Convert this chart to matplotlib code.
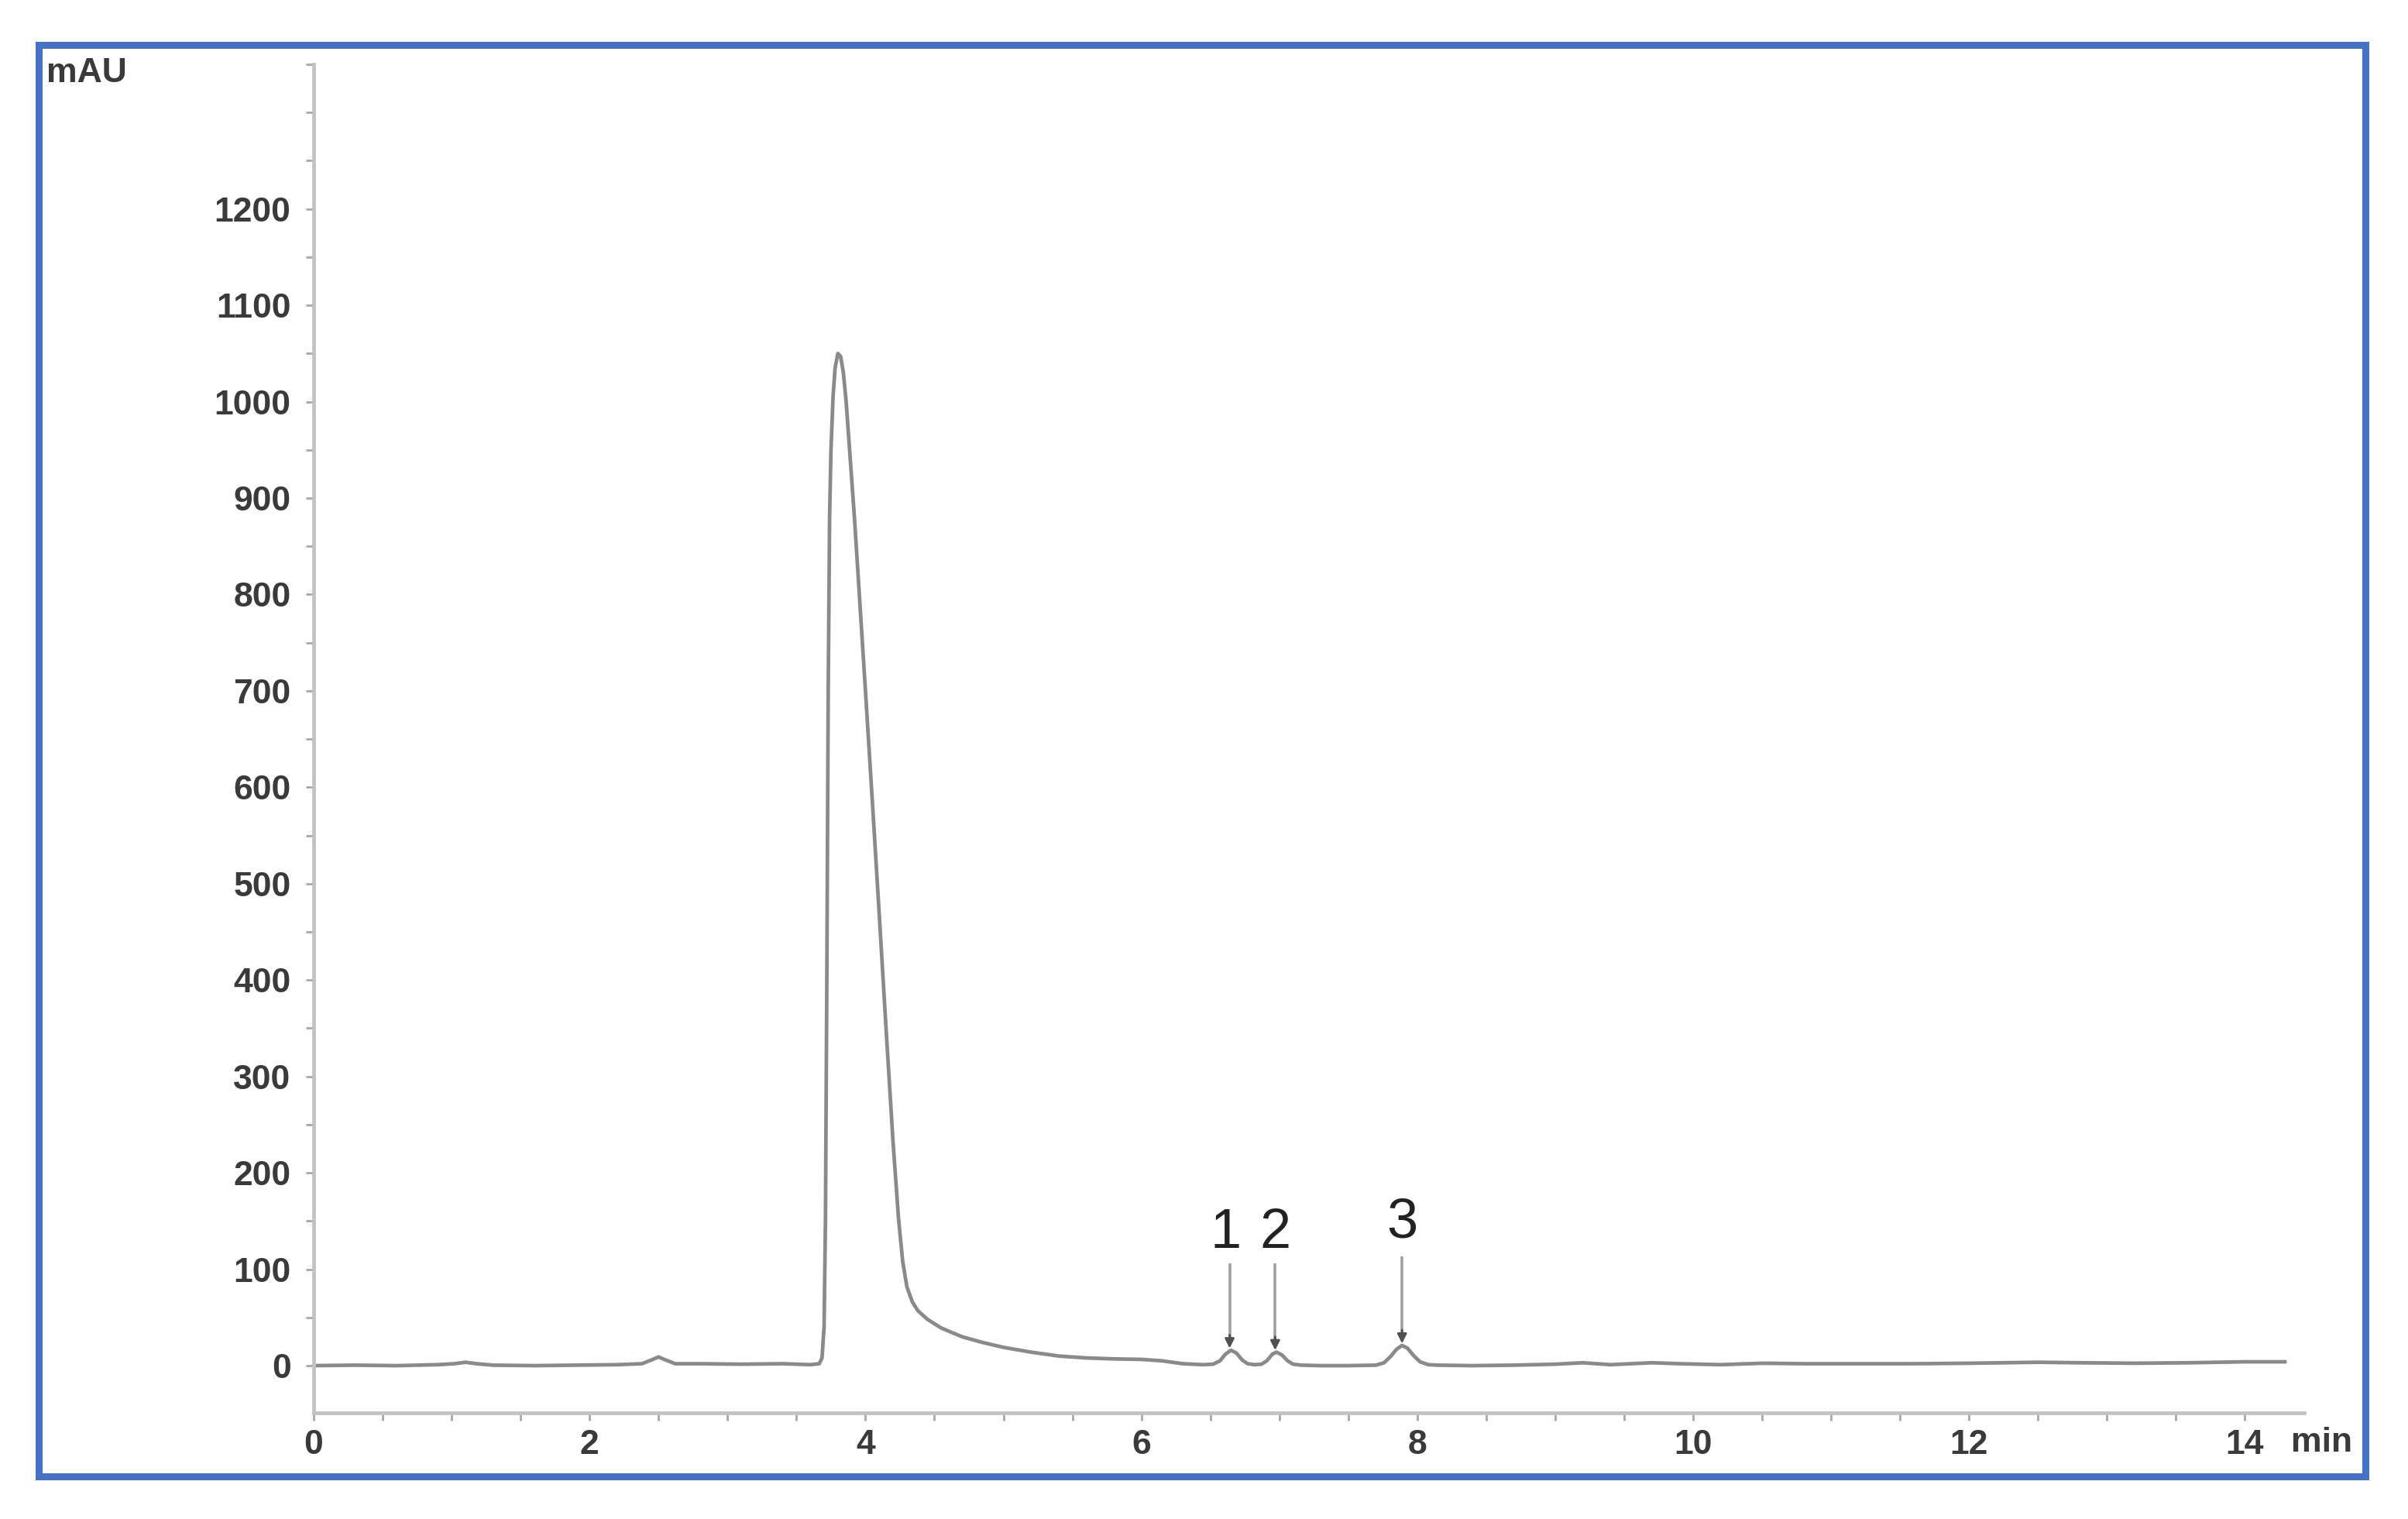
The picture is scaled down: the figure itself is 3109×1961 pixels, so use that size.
import matplotlib
matplotlib.use("Agg")
import matplotlib.pyplot as plt
from matplotlib.patches import Rectangle
from matplotlib.ticker import MultipleLocator

# ---- data ----
time_min = [0.00, 0.30, 0.60, 0.90, 1.02, 1.10, 1.18, 1.30, 1.60, 1.90, 2.20, 2.38, 2.45, 2.50,
            2.55, 2.62, 2.80, 3.10, 3.40, 3.60, 3.665, 3.685, 3.70, 3.71, 3.72, 3.73, 3.74,
            3.75, 3.765, 3.78, 3.80, 3.82, 3.84, 3.86, 3.88, 3.92, 3.96, 4.00, 4.05, 4.10,
            4.15, 4.20, 4.24, 4.27, 4.30, 4.34, 4.38, 4.45, 4.55, 4.70, 4.85, 5.00, 5.20,
            5.40, 5.60, 5.80, 6.00, 6.15, 6.30, 6.45, 6.52, 6.57, 6.61, 6.65, 6.69, 6.73,
            6.77, 6.82, 6.87, 6.91, 6.95, 6.98, 7.02, 7.06, 7.10, 7.16, 7.30, 7.50, 7.70,
            7.76, 7.81, 7.85, 7.89, 7.93, 7.97, 8.02, 8.08, 8.15, 8.40, 8.70, 9.00, 9.20,
            9.40, 9.70, 9.90, 10.20, 10.50, 10.80, 11.20, 11.60, 12.00, 12.50, 12.80, 13.20,
            13.60, 14.00, 14.29]
signal_mau = [0.0, 0.5, 0.0, 1.0, 2.0, 3.5, 2.0, 0.5, 0.0, 0.5, 1.0, 2.0, 6.0, 9.0,
              6.0, 2.0, 2.0, 1.5, 2.0, 1.0, 2.0, 8.0, 40.0, 150.0, 400.0, 700.0, 880.0,
              950.0, 1005.0, 1035.0, 1050.0, 1047.0, 1030.0, 1000.0, 960.0, 880.0, 790.0, 700.0, 585.0, 468.0,
              348.0, 232.0, 152.0, 108.0, 82.0, 66.0, 57.0, 48.0, 39.0, 30.0, 24.0, 19.0, 14.0,
              10.0, 8.0, 7.0, 6.5, 5.0, 2.0, 1.0, 1.5, 5.0, 12.0, 16.0, 13.0, 6.0,
              2.0, 1.0, 1.5, 5.0, 12.0, 14.0, 11.0, 5.0, 1.5, 0.5, 0.0, 0.0, 0.5,
              3.0, 10.0, 17.0, 21.0, 18.0, 11.0, 4.0, 1.0, 0.5, 0.0, 0.5, 1.5, 3.0,
              1.0, 3.0, 2.0, 1.0, 2.5, 2.0, 2.0, 2.0, 2.5, 3.5, 3.0, 2.5,
              3.0, 4.0, 4.0]

peak_labels = ["1", "2", "3"]
peak_times = [6.64, 6.97, 7.89]
peak_tops = [18.0, 16.0, 23.0]

x_major_ticks = [0, 2, 4, 6, 8, 10, 12, 14]
y_major_ticks = [0, 100, 200, 300, 400, 500, 600, 700, 800, 900, 1000, 1100, 1200]

# ---- figure ----
W, H, DPI = 3109, 1961, 200
fig = plt.figure(figsize=(W / DPI, H / DPI), dpi=DPI)
fig.patch.set_facecolor("white")

ax_l, ax_r = 405 / W, 2975 / W
ax_b, ax_t = 1 - 1824 / H, 1 - 83 / H
ax = fig.add_axes([ax_l, ax_b, ax_r - ax_l, ax_t - ax_b])
ax.set_xlim(0, 14.43)
ax.set_ylim(-49, 1350)

ax.plot(time_min, signal_mau, color="#8a8a8a", lw=1.7, solid_joinstyle="round")

for s in ["top", "right"]:
    ax.spines[s].set_visible(False)
for s in ["left", "bottom"]:
    ax.spines[s].set_color("#c2c2c2")
    ax.spines[s].set_linewidth(1.7)

ax.set_xticks(x_major_ticks)
ax.set_yticks(y_major_ticks)
ax.xaxis.set_minor_locator(MultipleLocator(0.5))
ax.yaxis.set_minor_locator(MultipleLocator(50))
ax.tick_params(axis="both", which="both", direction="out", color="#a8a8a8",
               width=1.0, length=3.6)
ax.tick_params(axis="y", which="major", pad=7)
ax.tick_params(axis="x", which="major", pad=4)
for lab in ax.get_xticklabels() + ax.get_yticklabels():
    lab.set_fontfamily("Liberation Sans")
    lab.set_fontweight("bold")
    lab.set_fontsize(16)
    lab.set_color("#3a3a3a")

# peak annotations
for lab, t, top in zip(peak_labels, peak_times, peak_tops):
    y_start = 113 if lab == "3" else 106
    ax.plot([t, t], [y_start, top + 10], color="#a0a0a0", lw=1.3, solid_capstyle="butt")
    ax.annotate("", xy=(t, top), xytext=(t, top + 14),
                arrowprops=dict(arrowstyle="-|>", color="#505050", lw=1.0,
                                mutation_scale=9, shrinkA=0, shrinkB=0))
    ty = 148 if lab == "3" else 137
    ax.text(t - (0.03 if lab == "1" else 0.0), ty, lab, ha="center", va="center",
            fontsize=26, fontfamily="Liberation Sans", color="#222222")

# axis unit labels
fig.text(60 / W, 1 - 95 / H, "mAU", ha="left", va="center", fontsize=16,
         fontweight="bold", fontfamily="Liberation Sans", color="#3a3a3a")
fig.text(2958 / W, 1 - 1862 / H, "min", ha="left", va="center", fontsize=16,
         fontweight="bold", fontfamily="Liberation Sans", color="#3a3a3a")

# blue frame
bw = 9
fig.add_artist(Rectangle((50 / W, 1 - 1906 / H), (3054 - 50) / W, (1906 - 58) / H,
                         transform=fig.transFigure, fill=False, ec="#4472c4",
                         lw=bw * 72 / DPI, zorder=10))

fig.savefig("out.png", dpi=DPI, facecolor="white")
